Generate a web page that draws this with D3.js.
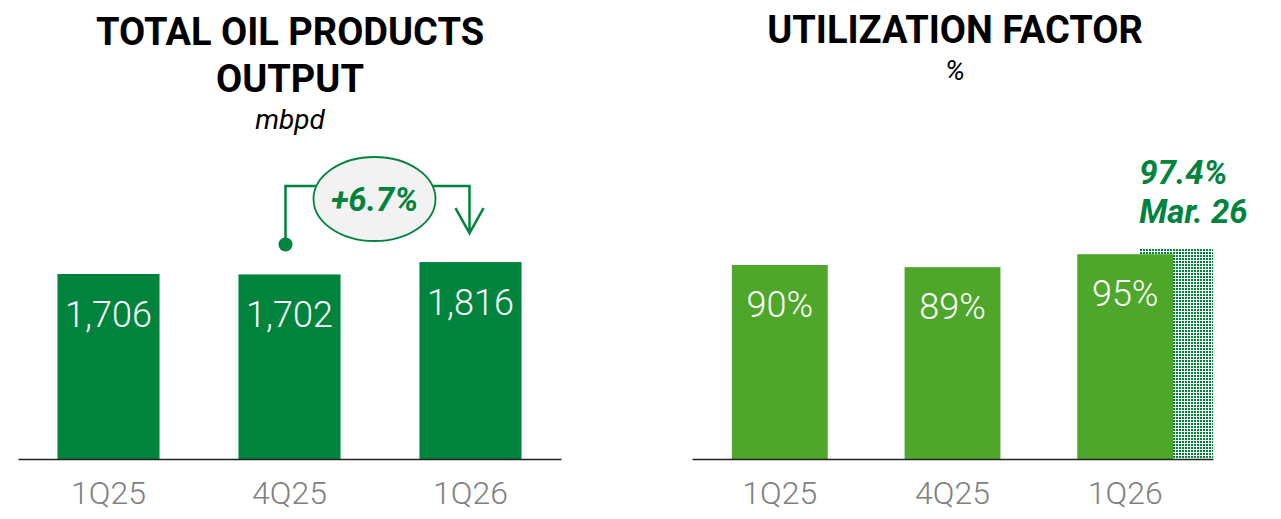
<!DOCTYPE html>
<html>
<head>
<meta charset="utf-8">
<script src="https://cdn.jsdelivr.net/npm/d3@7"></script>
<style>
  body { margin: 0; background: #fff; }
  svg text { font-family: Roboto, "Open Sans", sans-serif; }
</style>
</head>
<body>
<script>
// data
var periods = ["1Q25", "4Q25", "1Q26"];
var oilOutput = [1706, 1702, 1816];          // mbpd
var utilization = [90, 89, 95];              // %
var peakUtil = 97.4;                          // Mar. 26
var peakLabel = ["97.4%", "Mar. 26"];
var growthLabel = "+6.7%";

var W = 1281, H = 519, base = 459;
var darkGreen = "#00843d", lightGreen = "#4ea72a", grey = "#808080";

var svg = d3.select("body").append("svg")
    .attr("width", W).attr("height", H);

// dotted pattern for the monthly peak bar
svg.append("defs").append("pattern")
    .attr("id", "dots").attr("patternUnits", "userSpaceOnUse")
    .attr("width", 3).attr("height", 3)
    .append("rect").attr("width", 2).attr("height", 2).attr("fill", darkGreen);

// ---------- left: total oil products output ----------
var x1 = d3.scaleBand().domain(periods).range([18, 561])
    .paddingInner(0.436).paddingOuter(0.218);
var y1 = d3.scaleLinear().domain([0, 2000]).range([base, base - 2000 * 185 / 1706]);

var left = svg.append("g");

left.append("text").attr("x", 290).attr("y", 45).attr("text-anchor", "middle")
    .attr("font-size", 38).attr("font-weight", "bold").text("TOTAL OIL PRODUCTS");
left.append("text").attr("x", 290).attr("y", 92).attr("text-anchor", "middle")
    .attr("font-size", 38).attr("font-weight", "bold").text("OUTPUT");
left.append("text").attr("x", 290).attr("y", 129).attr("text-anchor", "middle")
    .attr("font-size", 28).attr("font-style", "italic").text("mbpd");

left.selectAll(".bar").data(oilOutput).enter().append("rect")
    .attr("x", function(d, i) { return x1(periods[i]); })
    .attr("width", x1.bandwidth())
    .attr("y", function(d) { return y1(d); })
    .attr("height", function(d) { return base - y1(d); })
    .attr("fill", darkGreen);

left.selectAll(".val").data(oilOutput).enter().append("text")
    .attr("x", function(d, i) { return x1(periods[i]) + x1.bandwidth() / 2; })
    .attr("y", function(d) { return y1(d) + 53; })
    .attr("text-anchor", "middle").attr("fill", "#fff")
    .attr("font-size", 36).attr("font-weight", 300)
    .text(d3.format(","));

var ax1 = left.append("g").attr("transform", "translate(0," + base + ")")
    .call(d3.axisBottom(x1).tickSize(0).tickSizeOuter(0).tickPadding(22));

// growth annotation between 4Q25 and 1Q26
var ax = x1("4Q25") + x1.bandwidth() / 2 - 4,
    bx = x1("1Q26") + x1.bandwidth() / 2 - 1,
    ay = y1(oilOutput[1]) - 30,
    by = y1(oilOutput[2]) - 29,
    topY = 186,
    cx = (ax + bx) / 2 - 3, cy = 199;
var ann = left.append("g").attr("stroke", darkGreen).attr("fill", "none").attr("stroke-width", 2.5);
ann.append("path").attr("d", "M" + ax + "," + ay + "V" + topY + "H" + cx);
ann.append("path").attr("d", "M" + cx + "," + topY + "H" + bx + "V" + by);
ann.append("path").attr("d", "M" + (bx - 14) + "," + (by - 25) + "L" + bx + "," + by + "L" + (bx + 14) + "," + (by - 25));
left.append("circle").attr("cx", ax).attr("cy", ay).attr("r", 7).attr("fill", darkGreen);
left.append("ellipse").attr("cx", cx).attr("cy", cy).attr("rx", 61).attr("ry", 42)
    .attr("fill", "#f2f2f2").attr("stroke", darkGreen).attr("stroke-width", 1.8);
left.append("text").attr("x", cx).attr("y", cy + 12).attr("text-anchor", "middle")
    .attr("fill", darkGreen).attr("font-size", 33).attr("font-weight", "bold")
    .attr("font-style", "italic").text(growthLabel);

// ---------- right: utilization factor ----------
var x2 = d3.scaleBand().domain(periods).range([692, 1213])
    .paddingInner(0.445).paddingOuter(0.231);
var y2 = d3.scaleLinear().domain([0, 100]).range([base, base - 100 * 194 / 90]);

var right = svg.append("g");

right.append("text").attr("x", 955).attr("y", 43).attr("text-anchor", "middle")
    .attr("font-size", 38).attr("font-weight", "bold").text("UTILIZATION FACTOR");
right.append("text").attr("x", 955).attr("y", 80).attr("text-anchor", "middle")
    .attr("font-size", 28).attr("font-style", "italic").text("%");

// peak month bar sits behind the 1Q26 bar
var px = x2("1Q26") + 62;
right.append("rect")
    .attr("x", px).attr("width", 1213 - px)
    .attr("y", y2(peakUtil)).attr("height", base - y2(peakUtil))
    .attr("fill", "url(#dots)");
right.selectAll(".peak").data(peakLabel).enter().append("text")
    .attr("x", px).attr("y", function(d, i) { return 184 + i * 39; })
    .attr("fill", darkGreen).attr("font-size", 33).attr("font-weight", "bold")
    .attr("font-style", "italic").text(function(d) { return d; });

right.selectAll(".bar").data(utilization).enter().append("rect")
    .attr("x", function(d, i) { return x2(periods[i]); })
    .attr("width", x2.bandwidth())
    .attr("y", function(d) { return y2(d); })
    .attr("height", function(d) { return base - y2(d); })
    .attr("fill", lightGreen);

right.selectAll(".val").data(utilization).enter().append("text")
    .attr("x", function(d, i) { return x2(periods[i]) + x2.bandwidth() / 2; })
    .attr("y", function(d) { return y2(d) + 52; })
    .attr("text-anchor", "middle").attr("fill", "#fff")
    .attr("font-size", 36).attr("font-weight", 300)
    .text(function(d) { return d + "%"; });

var ax2 = right.append("g").attr("transform", "translate(0," + base + ")")
    .call(d3.axisBottom(x2).tickSize(0).tickSizeOuter(0).tickPadding(22));

// axis styling
[ax1, ax2].forEach(function(g) {
    g.select(".domain").attr("stroke", "#222").attr("stroke-width", 1.5);
    g.selectAll("text").attr("font-size", 32).attr("fill", grey)
        .attr("font-family", "Roboto, sans-serif").attr("font-weight", 300);
});
</script>
</body>
</html>
